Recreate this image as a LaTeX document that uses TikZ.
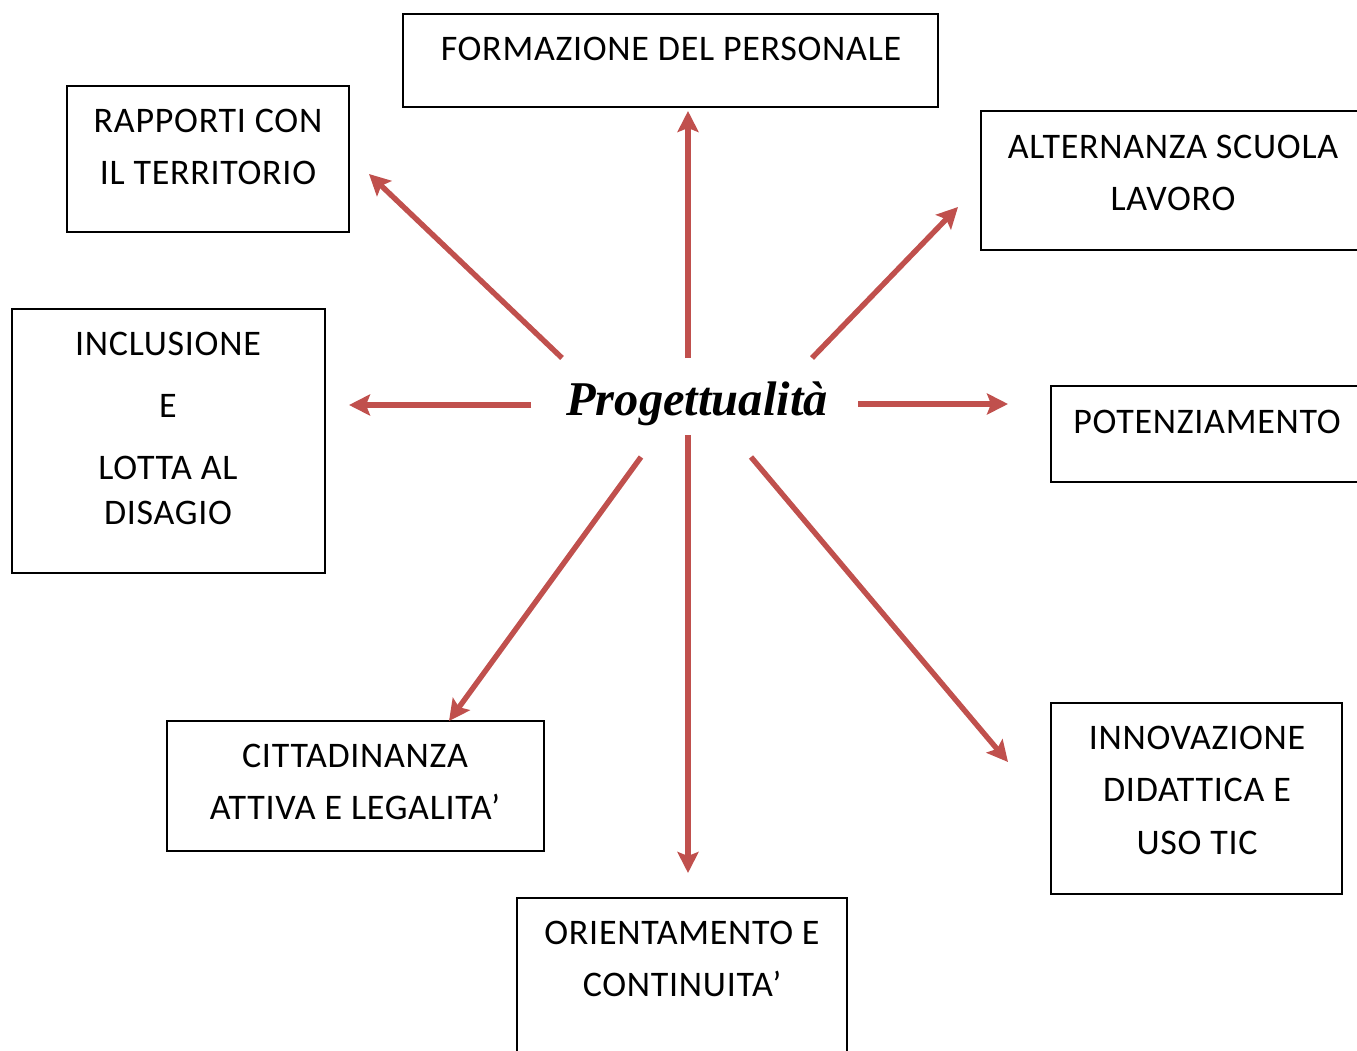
\documentclass[tikz,border=0pt]{standalone}
\usepackage{fontspec}
\setmainfont[LetterSpace=2]{Carlito}
\newfontfamily\titlefont{Liberation Serif}
\usetikzlibrary{arrows.meta}
\definecolor{arrowred}{HTML}{C0504D}
\tikzset{
  box/.style={draw=black, line width=1.6pt, inner sep=0pt},
  label/.style={font=\fontsize{36}{52.5}\selectfont, align=center, anchor=north, inner sep=0pt},
  link/.style={draw=arrowred, line width=5.4pt, -{Stealth[length=21pt,width=21pt,inset=4pt]}},
}
\begin{document}
\begin{tikzpicture}[x=1pt,y=-1pt]
\useasboundingbox (0,0) rectangle (1357,1050);
% boxes
\draw[box] (403,14) rectangle (938,107);
\draw[box] (67,86) rectangle (349,232);
\draw[box] (981,111) rectangle (1365,250);
\draw[box] (12,309) rectangle (325,573);
\draw[box] (1051,386) rectangle (1365,482);
\draw[box] (167,721) rectangle (544,851);
\draw[box] (1051,703) rectangle (1342,894);
\draw[box] (517,898) rectangle (847,1065);
% texts
\node[label] (form) at (671,36.5) {FORMAZIONE DEL PERSONALE};
\node[label] (rapp) at (208,108.5) {RAPPORTI CON\\IL TERRITORIO};
\node[label] (alt) at (1173,134.5) {ALTERNANZA SCUOLA\\LAVORO};
\node[label] (incl) at (168,331.5) {INCLUSIONE\\[9.5pt]E\\[9.5pt]LOTTA AL\\[-7.5pt]DISAGIO};
\node[label] (pot) at (1207,409.5) {POTENZIAMENTO};
\node[label] (citt) at (355,743.5) {CITTADINANZA\\ATTIVA E LEGALITA’};
\node[label] (inn) at (1197,725.5) {INNOVAZIONE\\DIDATTICA E\\USO TIC};
\node[label] (ori) at (682,920.5) {ORIENTAMENTO E\\CONTINUITA’};
% center
\node[inner sep=0pt, font=\titlefont\fontsize{48.5}{60}\selectfont\bfseries\itshape] (prog) at (697,404) {Progettualità};
% connector endpoints
\coordinate (s1) at (688,358); \coordinate (e1) at (688,111);
\coordinate (s2) at (562,358); \coordinate (e2) at (369,174);
\coordinate (s3) at (812,358); \coordinate (e3) at (958,207);
\coordinate (s4) at (531,405); \coordinate (e4) at (349,405);
\coordinate (s5) at (858,404); \coordinate (e5) at (1008,404);
\coordinate (s6) at (641,457); \coordinate (e6) at (449,721);
\coordinate (s7) at (688,435); \coordinate (e7) at (688,873);
\coordinate (s8) at (751,457); \coordinate (e8) at (1008,762);
\foreach \i in {1,...,8} \draw[link] (s\i) -- (e\i);
\end{tikzpicture}
\end{document}
